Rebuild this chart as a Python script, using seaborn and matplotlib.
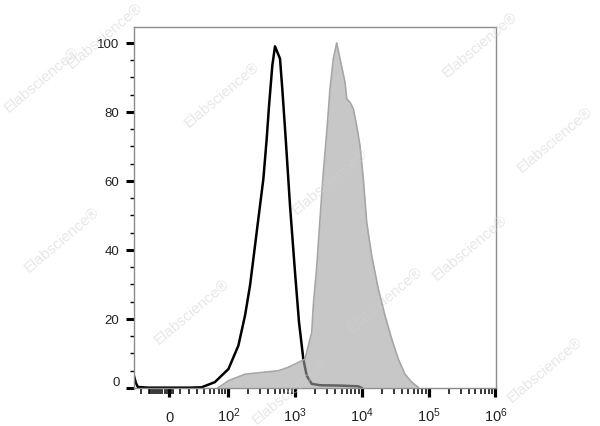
import numpy as np
import matplotlib
matplotlib.use('Agg')
import matplotlib.pyplot as plt
import seaborn as sns

# datos (fluorescencia, % del maximo)
control_x = [-40, -37, -34, -20, 0, 20, 36, 61, 100, 142, 179, 213, 253, 284,
             338, 379, 411, 460, 505, 600, 649, 730, 847, 1006, 1155, 1339,
             1504, 1787, 2378, 4734, 8797, 10100]
control_y = [3.5, 1.5, 0.3, 0.1, 0.1, 0.1, 0.2, 1.7, 5.5, 12.3, 21.0, 29.7, 41.2, 49.0,
             60.6, 72.2, 81.8, 93.4, 99.0, 95.4, 86.7, 72.2, 52.8, 33.5, 19.0, 8.4,
             3.6, 1.2, 0.8, 0.7, 0.5, 0.0]

stained_x = [68, 100, 179, 319, 566, 799, 1127, 1420, 1686, 1787, 1888, 2122,
             2378, 2667, 2998, 3356, 3761, 4227, 4734, 5628, 5965, 6680, 7482,
             8416, 9427, 10560, 11874, 14110, 17700, 22280, 28060, 35220, 44370,
             55890, 70130]
stained_y = [0.0, 2.1, 4.0, 4.5, 5.0, 6.0, 7.4, 8.4, 14.2, 16.0, 23.9, 35.0,
             49.0, 62.5, 74.1, 86.7, 95.4, 100.0, 95.4, 88.6, 83.8, 82.8, 80.9,
             76.0, 70.2, 60.6, 48.0, 38.3, 28.7, 21.0, 14.2, 8.4, 4.0,
             1.7, 0.2]

xticks = [0, 1e2, 1e3, 1e4, 1e5, 1e6]
xticklabels = ['0', r'$\mathregular{10^2}$', r'$\mathregular{10^3}$',
               r'$\mathregular{10^4}$', r'$\mathregular{10^5}$', r'$\mathregular{10^6}$']
yticks = [0, 20, 40, 60, 80, 100]

watermark = 'Elabscience®'
wm_pos = [(105, 36), (222, 95), (330, 182), (480, 45), (555, 140), (42, 80),
          (62, 240), (192, 312), (385, 300), (545, 370), (290, 392), (470, 248)]

sns.set_style('white')
plt.rcParams['font.family'] = ['Liberation Sans', 'DejaVu Sans']
plt.rcParams['mathtext.fontset'] = 'custom'
plt.rcParams['mathtext.rm'] = 'Liberation Sans'

fig = plt.figure(figsize=(6, 4.27), dpi=100)
ax = fig.add_axes([0.2233, 0.0890, 0.6033, 0.8454])
ax.set_xscale('asinh', linear_width=26.3)

sns.lineplot(x=control_x, y=control_y, ax=ax, color='black', lw=1.8, sort=False, zorder=2)
ax.fill_between(stained_x, stained_y, 0, color='#a3a3a3', alpha=0.6, lw=0, zorder=3)
sns.lineplot(x=stained_x, y=stained_y, ax=ax, color='#a6a6a6', lw=1.2, sort=False, zorder=4)

ax.set_xlim(-40, 1.016e6)
ax.set_ylim(0, 104.6)

# ticks del eje x (biexponencial)
minor_x = [-30] + [v for v in range(-20, 6, 2) if v != 0] + list(range(10, 100, 10))
for dec in [1e2, 1e3, 1e4, 1e5]:
    minor_x += [k * dec for k in range(2, 10)]
ax.set_xticks(xticks)
ax.set_xticks(minor_x, minor=True)
ax.set_xticklabels(xticklabels, fontsize=10.5, va='baseline')
ax.set_yticks(yticks)
ax.set_yticks(np.arange(0, 105, 5), minor=True)
ax.set_yticklabels([str(v) for v in yticks], fontsize=9.5)
ax.get_yticklabels()[0].set_va('bottom')

ax.tick_params(axis='x', which='major', length=6.5, width=2.3, color='black', pad=17, direction='out')
ax.tick_params(axis='x', which='minor', length=4, width=1.1, color='black', direction='out')
ax.tick_params(axis='y', which='major', length=6, width=2.2, color='black', pad=4.5, direction='out')
ax.tick_params(axis='y', which='minor', length=3, width=1.0, color='black', direction='out')
ax.tick_params(bottom=True, left=True, which='both', labelcolor='#222222')

for s in ax.spines.values():
    s.set_color('#8c8c8c')
    s.set_linewidth(1.0)
ax.set_xlabel('')
ax.set_ylabel('')

for (px, py) in wm_pos:
    fig.text(px / 600, 1 - py / 427, watermark, rotation=40, fontsize=11,
             color='#cfcfcf', alpha=0.5, ha='center', va='center', zorder=10)

fig.savefig('out.png', dpi=100)
